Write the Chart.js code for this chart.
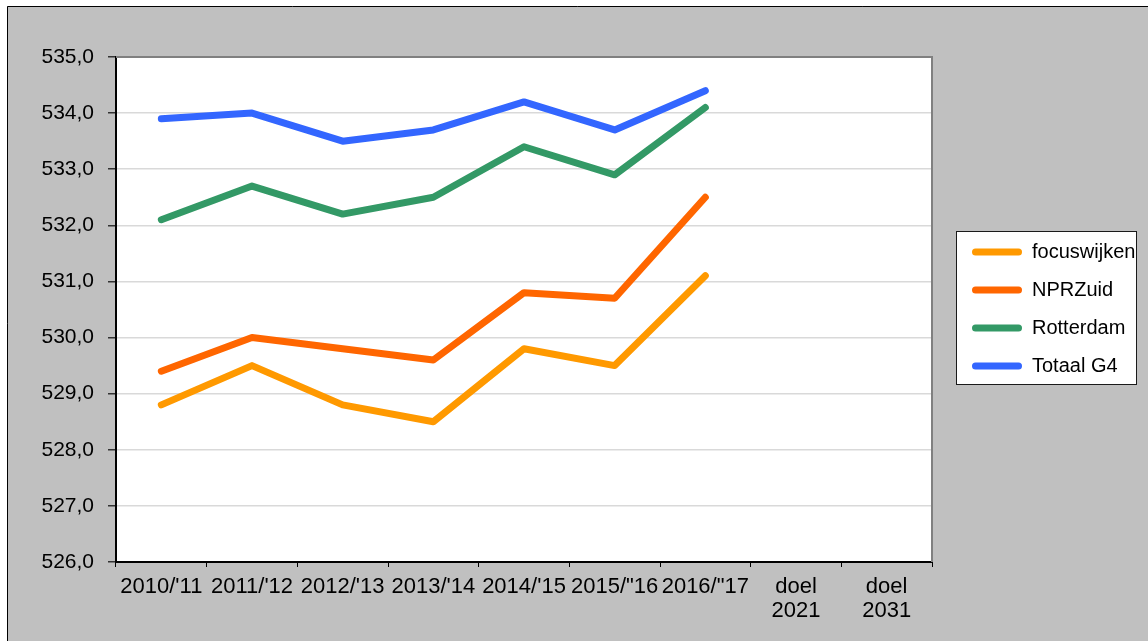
<!DOCTYPE html>
<html>
<head>
<meta charset="utf-8">
<script src="https://cdn.jsdelivr.net/npm/chart.js@4/dist/chart.umd.min.js"></script>
<style>
  html, body { margin: 0; padding: 0; background: #ffffff; }
  canvas { display: block; }
</style>
</head>
<body>
<canvas id="c" width="1148" height="641" style="width:1148px;height:641px"></canvas>
<script>
const categories = ["2010/'11", "2011/'12", "2012/'13", "2013/'14", "2014/'15", "2015/\"16", "2016/\"17", ["doel", "2021"], ["doel", "2031"]];
const focuswijken = [528.8, 529.5, 528.8, 528.5, 529.8, 529.5, 531.1, null, null];
const nprZuid     = [529.4, 530.0, 529.8, 529.6, 530.8, 530.7, 532.5, null, null];
const rotterdam   = [532.1, 532.7, 532.2, 532.5, 533.4, 532.9, 534.1, null, null];
const totaalG4    = [533.9, 534.0, 533.5, 533.7, 534.2, 533.7, 534.4, null, null];
const seriesNames = ["focuswijken", "NPRZuid", "Rotterdam", "Totaal G4"];
const seriesColors = ["#FF9900", "#FF6600", "#339966", "#3366FF"];
const yMin = 526, yMax = 535, yStep = 1;

const FONT = "'Liberation Sans', Arial, sans-serif";

const framePlugin = {
  id: 'frame',
  beforeDraw(chart) {
    const ctx = chart.ctx;
    const a = chart.chartArea;
    ctx.save();
    ctx.fillStyle = '#C0C0C0';
    ctx.fillRect(7, 6, chart.width - 7, chart.height - 6);
    ctx.strokeStyle = '#000000';
    ctx.lineWidth = 1;
    ctx.beginPath();
    ctx.moveTo(7.5, chart.height);
    ctx.lineTo(7.5, 6.5);
    ctx.lineTo(chart.width, 6.5);
    ctx.stroke();
    ctx.fillStyle = '#FFFFFF';
    ctx.fillRect(a.left, a.top, a.right - a.left, a.bottom - a.top);
    ctx.fillStyle = '#FFFFFF';
    ctx.fillRect(956, 231, 181, 154);
    ctx.strokeStyle = '#1a1a1a';
    ctx.lineWidth = 1;
    ctx.strokeRect(956.5, 231.5, 180, 153);
    ctx.restore();
  },
  beforeDatasetsDraw(chart) {
    const ctx = chart.ctx;
    const a = chart.chartArea;
    ctx.save();
    ctx.strokeStyle = '#808080';
    ctx.lineWidth = 2;
    ctx.beginPath();
    ctx.moveTo(a.left, a.top);
    ctx.lineTo(a.right, a.top);
    ctx.lineTo(a.right, a.bottom);
    ctx.stroke();
    ctx.restore();
  },
  afterLayout(chart) {
    const lg = chart.legend;
    if (lg) {
      lg.left = 954; lg.top = 224; lg.right = 1140; lg.bottom = 560;
      lg.width = lg.right - lg.left; lg.height = lg.bottom - lg.top;
    }
  }
};

const datasets = [focuswijken, nprZuid, rotterdam, totaalG4].map((d, i) => ({
  label: seriesNames[i],
  data: d,
  borderColor: seriesColors[i],
  backgroundColor: seriesColors[i],
  borderWidth: 7,
  borderCapStyle: 'round',
  borderJoinStyle: 'round',
  pointRadius: 0,
  pointHoverRadius: 0,
  tension: 0,
  spanGaps: false
}));

new Chart(document.getElementById('c'), {
  type: 'line',
  data: { labels: categories, datasets },
  plugins: [framePlugin],
  options: {
    responsive: false,
    animation: false,
    devicePixelRatio: 1,
    layout: { padding: { left: 0, top: 57, right: 216, bottom: 0 } },
    plugins: {
      tooltip: { enabled: false },
      legend: {
        display: true,
        position: 'chartArea',
        align: 'start',
        labels: {
          color: '#000000',
          font: { family: FONT, size: 20 },
          boxWidth: 50,
          boxHeight: 7,
          padding: 18,
          useBorderRadius: true,
          borderRadius: 3.5,
          generateLabels(chart) {
            return Chart.defaults.plugins.legend.labels.generateLabels(chart).map(it => {
              it.lineWidth = 0;
              it.strokeStyle = it.fillStyle;
              return it;
            });
          }
        }
      }
    },
    scales: {
      x: {
        type: 'category',
        offset: true,
        afterFit(s) { s.height = 79; },
        grid: {
          offset: true,
          drawOnChartArea: false,
          drawTicks: true,
          tickLength: 5,
          tickColor: '#000000',
          tickWidth: 1
        },
        border: { display: true, color: '#000000', width: 2 },
        ticks: {
          color: '#000000',
          font: { family: FONT, size: 22, lineHeight: 1.1 },
          padding: 8,
          maxRotation: 0,
          minRotation: 0,
          autoSkip: false
        }
      },
      y: {
        min: yMin,
        max: yMax,
        afterFit(s) { s.width = 116; },
        grid: {
          color: '#D9D9D9',
          lineWidth: 1.5,
          drawTicks: true,
          tickLength: 8,
          tickColor: '#333333',
          tickWidth: 1.5
        },
        border: { display: true, color: '#000000', width: 2 },
        ticks: {
          stepSize: yStep,
          color: '#000000',
          font: { family: FONT, size: 21 },
          padding: 14,
          callback: v => Number(v).toFixed(1).replace('.', ',')
        }
      }
    }
  }
});
</script>
</body>
</html>
